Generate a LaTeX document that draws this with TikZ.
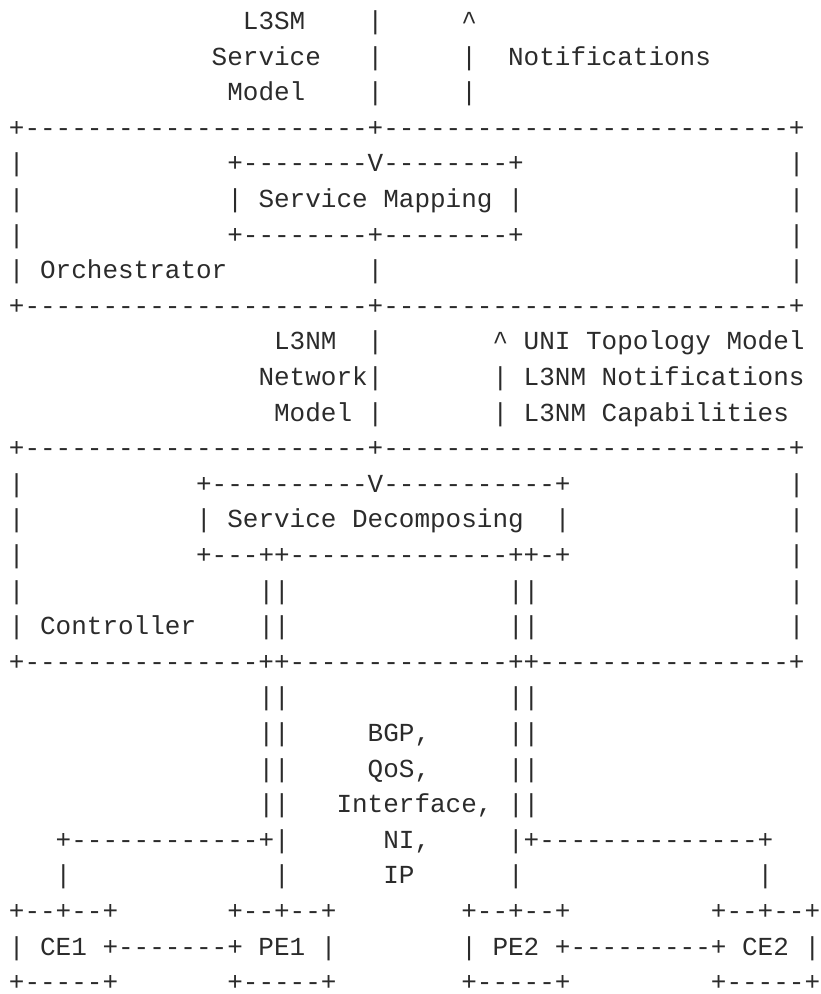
\documentclass[tikz,border=0pt]{standalone}
\usepackage{fontspec}
\newfontfamily\asciifont{Liberation Mono}[WordSpace={1,0,0}]
\frenchspacing
\definecolor{ink}{HTML}{2B2B2B}
\tikzset{
    txt/.style={font=\asciifont\fontsize{26pt}{30pt}\selectfont, text=ink,
        anchor=base west, inner sep=0pt, outer sep=0pt}
}

\begin{document}
\begin{tikzpicture}[x=15.6pt, y=-35.6pt]
    \useasboundingbox (-8.9pt,-6.1pt) rectangle (811.1pt,-1000.1pt);
    \node [txt] (l3sm) at (15,1) {L3SM};
    \node [txt] (smdown1) at (23,1) {|};
    \node [txt] (notifup1) at (29,1) {\textasciicircum};
    \node [txt] (service) at (13,2) {Service};
    \node [txt] (smdown2) at (23,2) {|};
    \node [txt] (notifup2) at (29,2) {|};
    \node [txt] (notif) at (32,2) {Notifications};
    \node [txt] (model) at (14,3) {Model};
    \node [txt] (smdown3) at (23,3) {|};
    \node [txt] (notifup3) at (29,3) {|};

    \node [txt] (orchtop) at (0,4) {+----------------------+--------------------------+};
    \node [txt] (orchl5) at (0,5) {|};
    \node [txt] (maptop) at (14,5) {+--------V--------+};
    \node [txt] (orchr5) at (50,5) {|};
    \node [txt] (orchl6) at (0,6) {|};
    \node [txt] (mapping) at (14,6) {| Service Mapping |};
    \node [txt] (orchr6) at (50,6) {|};
    \node [txt] (orchl7) at (0,7) {|};
    \node [txt] (mapbot) at (14,7) {+--------+--------+};
    \node [txt] (orchr7) at (50,7) {|};
    \node [txt] (orchl8) at (0,8) {|};
    \node [txt] (orch) at (2,8) {Orchestrator};
    \node [txt] (mapdown) at (23,8) {|};
    \node [txt] (orchr8) at (50,8) {|};
    \node [txt] (orchbot) at (0,9) {+----------------------+--------------------------+};

    \node [txt] (l3nm) at (17,10) {L3NM};
    \node [txt] (nmdown1) at (23,10) {|};
    \node [txt] (uni) at (31,10) {\textasciicircum\ UNI Topology Model};
    \node [txt] (network) at (16,11) {Network|};
    \node [txt] (nmnotif) at (31,11) {| L3NM Notifications};
    \node [txt] (nmmodel) at (17,12) {Model |};
    \node [txt] (nmcap) at (31,12) {| L3NM Capabilities};

    \node [txt] (ctrltop) at (0,13) {+----------------------+--------------------------+};
    \node [txt] (ctrll14) at (0,14) {|};
    \node [txt] (dectop) at (12,14) {+----------V-----------+};
    \node [txt] (ctrlr14) at (50,14) {|};
    \node [txt] (ctrll15) at (0,15) {|};
    \node [txt] (decomp) at (12,15) {| Service Decomposing};
    \node [txt] (decr) at (35,15) {|};
    \node [txt] (ctrlr15) at (50,15) {|};
    \node [txt] (ctrll16) at (0,16) {|};
    \node [txt] (decbot) at (12,16) {+---++--------------++-+};
    \node [txt] (ctrlr16) at (50,16) {|};
    \node [txt] (ctrll17) at (0,17) {|};
    \node [txt] (leftbus17) at (16,17) {||};
    \node [txt] (rightbus17) at (32,17) {||};
    \node [txt] (ctrlr17) at (50,17) {|};
    \node [txt] (ctrll18) at (0,18) {|};
    \node [txt] (ctrl) at (2,18) {Controller};
    \node [txt] (leftbus18) at (16,18) {||};
    \node [txt] (rightbus18) at (32,18) {||};
    \node [txt] (ctrlr18) at (50,18) {|};
    \node [txt] (ctrlbot) at (0,19) {+---------------++--------------++----------------+};

    \node [txt] (leftbus20) at (16,20) {||};
    \node [txt] (rightbus20) at (32,20) {||};
    \node [txt] (leftbus21) at (16,21) {||};
    \node [txt] (bgp) at (23,21) {BGP,};
    \node [txt] (rightbus21) at (32,21) {||};
    \node [txt] (leftbus22) at (16,22) {||};
    \node [txt] (qos) at (23,22) {QoS,};
    \node [txt] (rightbus22) at (32,22) {||};
    \node [txt] (leftbus23) at (16,23) {||};
    \node [txt] (iface) at (21,23) {Interface,};
    \node [txt] (rightbus23) at (32,23) {||};
    \node [txt] (ce1link) at (3,24) {+------------+|};
    \node [txt] (ni) at (24,24) {NI,};
    \node [txt] (ce2link) at (32,24) {|+--------------+};
    \node [txt] (ce1down) at (3,25) {|};
    \node [txt] (pe1down) at (17,25) {|};
    \node [txt] (ip) at (24,25) {IP};
    \node [txt] (pe2down) at (32,25) {|};
    \node [txt] (ce2down) at (48,25) {|};

    \node [txt] (ce1top) at (0,26) {+--+--+};
    \node [txt] (pe1top) at (14,26) {+--+--+};
    \node [txt] (pe2top) at (29,26) {+--+--+};
    \node [txt] (ce2top) at (45,26) {+--+--+};
    \node [txt] (ce1pe1) at (0,27) {| CE1 +-------+ PE1 |};
    \node [txt] (pe2ce2) at (29,27) {| PE2 +---------+ CE2 |};
    \node [txt] (ce1bot) at (0,28) {+-----+};
    \node [txt] (pe1bot) at (14,28) {+-----+};
    \node [txt] (pe2bot) at (29,28) {+-----+};
    \node [txt] (ce2bot) at (45,28) {+-----+};
\end{tikzpicture}
\end{document}
